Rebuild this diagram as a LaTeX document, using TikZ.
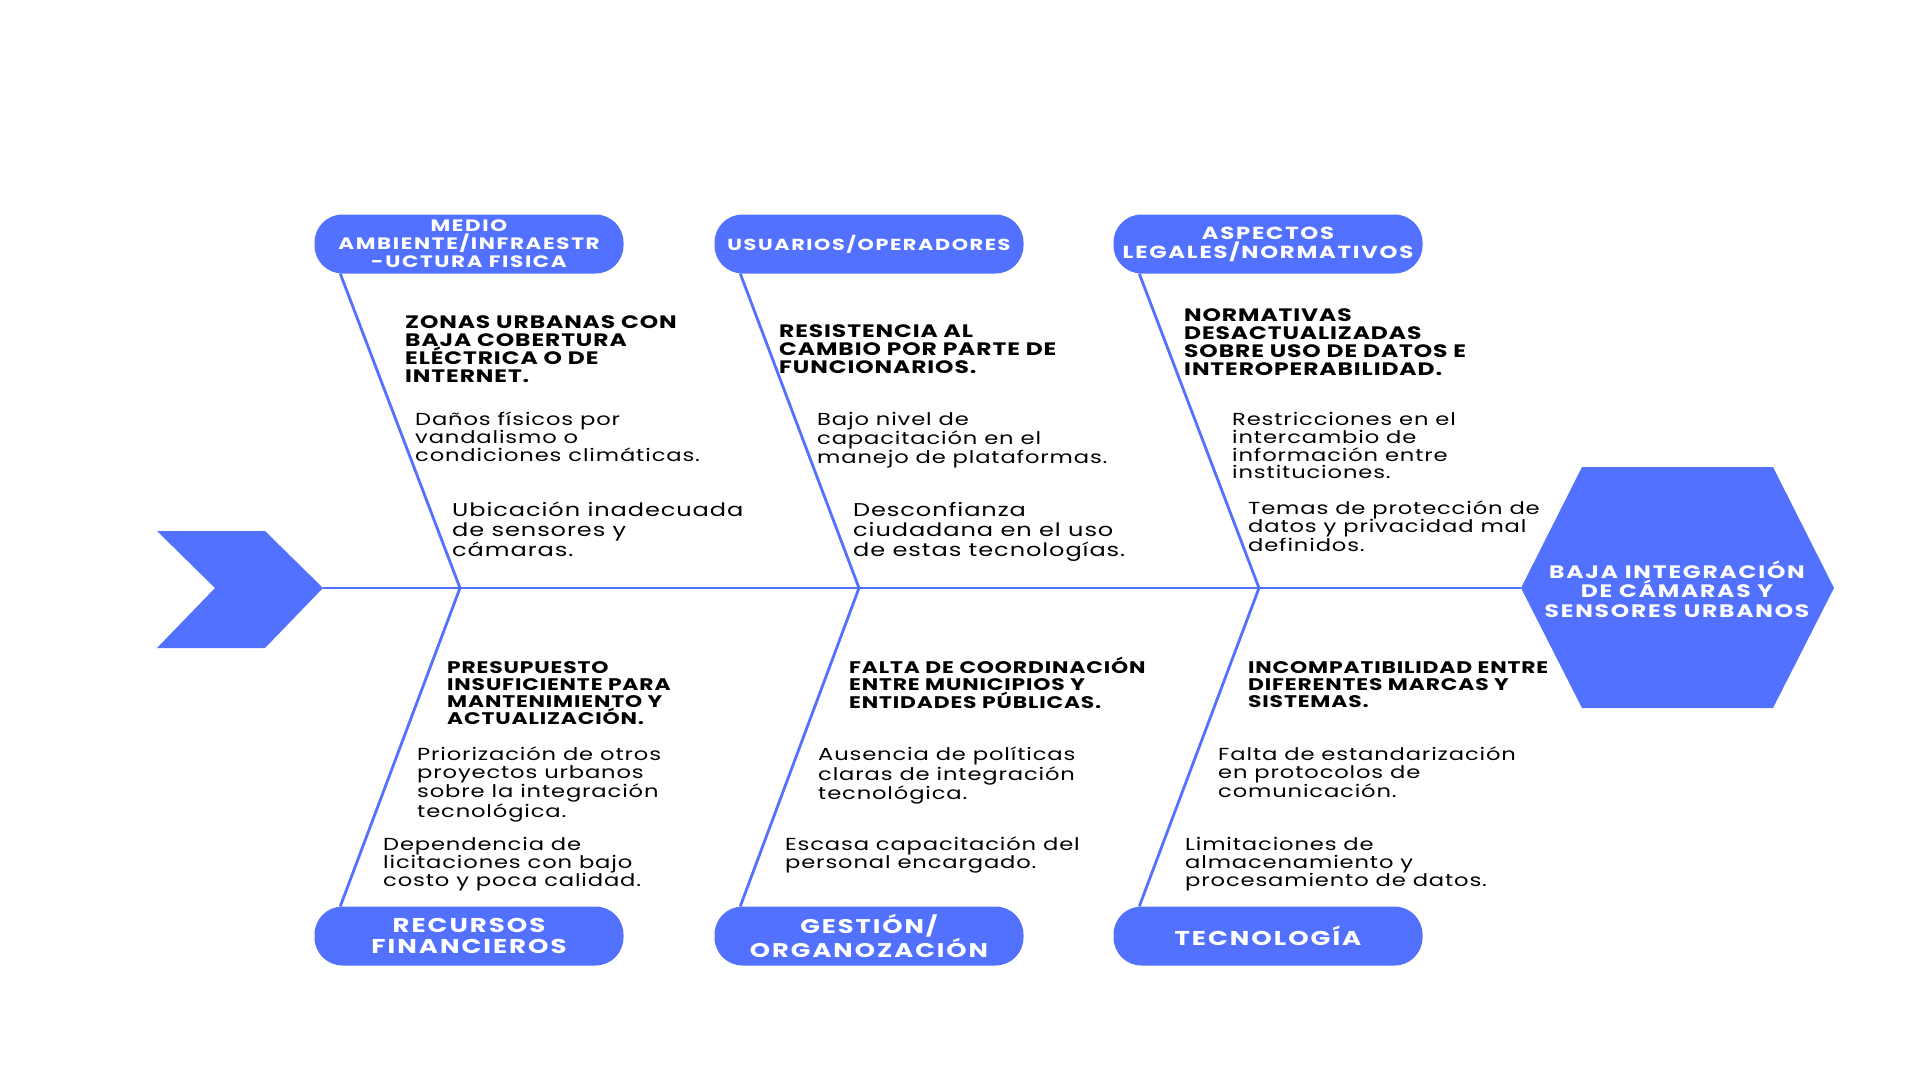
\documentclass[tikz,border=0pt]{standalone}
\usepackage{fontspec}
\setmainfont{Poppins}[FakeStretch=1.3,LetterSpace=5]
\newfontfamily\widecaps{Poppins}[FakeStretch=1.3,LetterSpace=10]
\definecolor{fishblue}{HTML}{5271FF}
\begin{document}
\begin{tikzpicture}[x=1pt,y=-1pt,
  bone/.style={draw=fishblue,line width=2.8pt},
  catbox/.style={fill=fishblue,rounded corners=28pt,minimum width=309pt,minimum height=59pt,
    inner sep=0pt,text=white,align=center},
  capcause/.style={anchor=north west,inner sep=0pt,align=left,
    font=\bfseries\fontsize{18}{18.2}\selectfont},
  lowcap/.style={capcause,font=\bfseries\fontsize{16.8}{17.2}\selectfont},
  cause/.style={anchor=north west,inner sep=0pt,align=left,
    font=\fontsize{17.4}{17.8}\selectfont},
  bigcause/.style={anchor=north west,inner sep=0pt,align=left,
    font=\fontsize{18.5}{20}\selectfont}]
\useasboundingbox (0,0) rectangle (1920,1080);
% cola y cabeza
\fill[fishblue] (157,531) -- (265,531) -- (323,588) coordinate (tail) -- (265,648) -- (157,648) -- (215,588) -- cycle;
\fill[fishblue] (1582,467) -- (1773,467) -- (1834,588) -- (1773,708) -- (1582,708) -- (1521,588) coordinate (hexl) -- cycle;
\node[text=white,align=center,font=\widecaps\bfseries\fontsize{18}{19.5}\selectfont] (efecto) at (1677,589)
  {BAJA INTEGRACIÓN\\DE CÁMARAS Y\\SENSORES URBANOS};
% espina
\coordinate (j1) at (460,588);
\coordinate (j2) at (859,588);
\coordinate (j3) at (1259,588);
\draw[bone] (tail) -- (j1) -- (j2) -- (j3) -- (hexl);
% categorias
\node[catbox,font=\widecaps\bfseries\fontsize{16.5}{18}\selectfont] (medio) at (469,244) {MEDIO\\AMBIENTE/INFRAESTR\\-UCTURA FISICA};
\node[catbox,font=\widecaps\bfseries\fontsize{16}{18}\selectfont] (usuarios) at (869,244) {USUARIOS/OPERADORES};
\node[catbox,font=\widecaps\bfseries\fontsize{17.5}{19}\selectfont] (legales) at (1268,244) {ASPECTOS\\LEGALES/NORMATIVOS};
\node[catbox,font=\widecaps\bfseries\fontsize{20}{21.5}\selectfont] (recursos) at (469,936) {RECURSOS\\FINANCIEROS};
\node[catbox,font=\widecaps\bfseries\fontsize{19.8}{21.5}\selectfont] (gestion) at (869,936) {GESTIÓN/\\ORGANOZACIÓN};
\node[catbox,font=\widecaps\bfseries\fontsize{20}{21.5}\selectfont] (tecno) at (1268,936) {TECNOLOGÍA};
\draw[bone] ([xshift=26pt]medio.south west) -- (j1) -- ([xshift=26pt]recursos.north west);
\draw[bone] ([xshift=26pt]usuarios.south west) -- (j2) -- ([xshift=26pt]gestion.north west);
\draw[bone] ([xshift=26pt]legales.south west) -- (j3) -- ([xshift=26pt]tecno.north west);
% causas arriba
\node[capcause] (c11) at (405,315) {ZONAS URBANAS CON\\BAJA COBERTURA\\ELÉCTRICA O DE\\INTERNET.};
\node[cause] (c12) at (415,412) {Daños físicos por\\vandalismo o\\condiciones climáticas.};
\node[bigcause] (c13) at (452,502) {Ubicación inadecuada\\de sensores y\\cámaras.};
\node[capcause] (c21) at (779,324) {RESISTENCIA AL\\CAMBIO POR PARTE DE\\FUNCIONARIOS.};
\node[cause] (c22) at (817,412) {Bajo nivel de\\capacitación en el\\manejo de plataformas.};
\node[bigcause] (c23) at (853,502) {Desconfianza\\ciudadana en el uso\\de estas tecnologías.};
\node[capcause] (c31) at (1184,308) {NORMATIVAS\\DESACTUALIZADAS\\SOBRE USO DE DATOS E\\INTEROPERABILIDAD.};
\node[cause] (c32) at (1232,412) {Restricciones en el\\intercambio de\\información entre\\instituciones.};
\node[cause] (c33) at (1248,501) {Temas de protección de\\datos y privacidad mal\\definidos.};
% causas abajo
\node[lowcap] (c41) at (447,661) {PRESUPUESTO\\INSUFICIENTE PARA\\MANTENIMIENTO Y\\ACTUALIZACIÓN.};
\node[cause] (c42) at (417,747) {Priorización de otros\\proyectos urbanos\\sobre la integración\\tecnológica.};
\node[cause] (c43) at (383,837) {Dependencia de\\licitaciones con bajo\\costo y poca calidad.};
\node[lowcap] (c51) at (849,657) {FALTA DE COORDINACIÓN\\ENTRE MUNICIPIOS Y\\ENTIDADES PÚBLICAS.};
\node[cause] (c52) at (818,747) {Ausencia de políticas\\claras de integración\\tecnológica.};
\node[cause] (c53) at (785,837) {Escasa capacitación del\\personal encargado.};
\node[lowcap] (c61) at (1248,661) {INCOMPATIBILIDAD ENTRE\\DIFERENTES MARCAS Y\\SISTEMAS.};
\node[cause] (c62) at (1218,747) {Falta de estandarización\\en protocolos de\\comunicación.};
\node[cause] (c63) at (1185,837) {Limitaciones de\\almacenamiento y\\procesamiento de datos.};
\end{tikzpicture}
\end{document}
